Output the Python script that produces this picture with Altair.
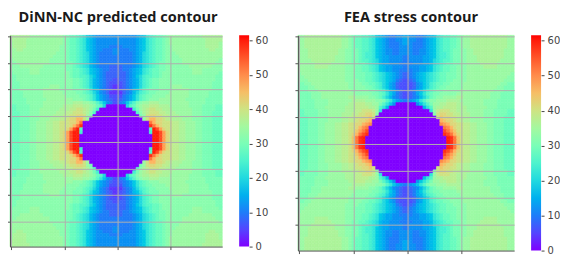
import altair as alt
import pandas as pd

# Top-left quarter of each field (the image is near-symmetric).
# One character per cell, base 36, value = digit * 2; short rows end at the hole (0).
DINN = [
"iiiiiihhhhhhhhhh" "gfeedcb987666666",
"iiiiihhhhhhhhhhh" "gfeedcb987666666",
"hiiiihhhhhhhhhhh" "gfeedcb987666666",
"hiiiihhhhhhhhhhg" "gfeedcb987666655",
"hhiihhhhhhhhhhhg" "gfeedcb987665556",
"hhhhhhhhhhhhhhgg" "gfeedcba87655556",
"hhhhhhhhhhhhhggg" "gfeedcba87655555",
"ghhhhhhhhhhhgggg" "gfeedcba87655555",
"gghhhhhhhhhhgggg" "gffedcba87655555",
"ggghhhhhhhgggggg" "gffedcba87655544",
"gggggghhhggggggg" "gffeedcb98765544",
"fggggghhhggggggg" "ggfeedcb98765444",
"ffgggggggggggggg" "ggfeeddca9765444",
"ffgggggggggggggg" "gggffedca8765443",
"fffggggggggggggg" "gggffedca8765433",
"fffggggggggghhhg" "gggffedca8765432",
"fffggggggghhhhhg" "gggfffedb9865432",
"ffffgggggghhhhhh" "ggggffedca865422",
"ffffgggggghhhhhh" "hggggffedb976533",
"fffffgggggghhhhh" "hhhgggfedb976543",
"fffffggggghhhhhh" "hhhiiihhgfdb9653",
"eeffffgggghhhhhhiiijjjiihgeda",
"eeffffggghhhhhhiiijjkkjihfc",
"eeefffggghhhhhiiijjkkkjigd",
"eeefffggghhhhiiijjkkllkhf",
"eeefffggghhhiiijjkllnnkh",
"eeefffgghhhiijjkkkllnq",
"eeefffgghhhiijjkkklnqt",
"eeefffgghhhiijjkklosud",
"eeefffgghhhiijjklosuuc",
"eeefffgghhhiijjklosuu",
"eeefffgghhhiijjklosuu",
]
FEA = [
"hhiiiiiiiiiiihhg" "feeddcb987655667",
"hhiiiiiiiiiiihhg" "feeddcb987655667",
"hhiiiiiiiiiiihhg" "feeddcb987655567",
"hhiiiiiiiiiiihhg" "feeddcb987655566",
"hhhiiiiiiiiihhgg" "ffeddcb987665566",
"hhhiiiiiiiiihhgg" "ffedccb987665566",
"hhhiiiiiiiihhhgg" "ffedccb987766665",
"hhhhiiiiiiihhhgg" "ffeddcba87766665",
"hhhhhiiiiihhhhgg" "ffeedcba87766655",
"hhhhhiiiihhhhhgg" "gffeedcb98776665",
"hhhhhhhhhhhhhhgg" "gffeedcb98776655",
"ghhhhhhhhhhhhhgg" "gfffeedcba987654",
"gghhhhhhhhhhhhgg" "gfffeedcba987654",
"ggghhhhhhhhhhhgg" "ggffeedcba987543",
"ffgghhhhhhhhhhhg" "gggffeedca976433",
"fffgghhhhhhhhhhg" "ggggffedca976433",
"fffggghhhhhhhhhh" "gggggffedca87543",
"ffffggghhhhhhhhh" "hgggggffedb97543",
"ffffggghhhhhhhhi" "ihhhhggfeca86543",
"fffffgggghhhhhhh" "iiiihhhggfdb9765",
"fffffgggghhhhhhiijjjiihhfdb96",
"fffffggghhhhhhiiijjjjiihdb8",
"eeffffggghhhhhiiijjkkkjhb",
"eeffffggghhhhiiijjkkllkg",
"eeefffggghhhhiijjkkllmk",
"eeefffggghhhhiijjkllmn",
"eeefffgghhhiijjkkllnop",
"eeefffgghhhiijjkklnpq",
"eeefffgghhhiijjkkmoqs",
"eeefffgghhhiijjklnqst",
"eeefffgghhhiijjkmqtu",
"eeefffgghhhiijjkmqtu",
]
X_TICKS = [0, 20, 40, 60]
Y_TICKS = [0, 10, 20, 30, 40, 50, 60, 70]
BAR_TICKS = [0, 10, 20, 30, 40, 50, 60]
STOPS = [0, 3.84, 7.69, 11.53, 15.38, 19.22, 23.06, 26.91, 30.75,
         34.59, 38.44, 42.28, 46.13, 49.97, 53.81, 57.66, 61.5]
# The edge scale closes the seams between cells; its last stop differs so its legend is not merged in.
EDGE_STOPS = STOPS[:-1] + [61.51]
COLORS = ["#8000ff", "#6032fe", "#4062fa", "#208cf4", "#00b4ec", "#20d4e1", "#40ecd4", "#60fac4",
          "#80ffb4", "#a0f9a2", "#bfec8e", "#e0d47a", "#ffb462", "#ff8c4b", "#ff6232", "#ff321a", "#ff0000"]
N = 64
SPAN = 80


def table(quad):
    rows = [r.ljust(N // 2, "0")[:N // 2] for r in quad]
    rows = rows + rows[::-1]
    out = []
    for i, r in enumerate(rows):
        line = r + r[::-1]
        for j, ch in enumerate(line):
            out.append({"x": -0.5 + j * SPAN / N, "x2": -0.5 + (j + 1) * SPAN / N,
                        "y": -0.5 + i * SPAN / N, "y2": -0.5 + (i + 1) * SPAN / N,
                        "v": int(ch, 36) * 2})
    return pd.DataFrame(out)


def panel(quad, title, w, h, shift):
    legend = alt.Legend(type="gradient", title=None, orient="none", legendX=w + 17, legendY=0,
                        gradientLength=h, gradientThickness=10, values=[], gradientStrokeWidth=0)
    axis = dict(labels=False, title=None, grid=True, gridColor="#b0b0b0", gridWidth=1, tickSize=3,
                tickColor="#555555", domainColor="#555555", zindex=1)
    field = alt.Chart(table(quad), title=alt.TitleParams(title, font="Open Sans", fontSize=14.6, fontWeight="bold",
                                                         color="#1a1a1a", anchor="middle", offset=10,
                                                         dx=shift)).mark_rect(strokeWidth=0.6).encode(
        x=alt.X("x:Q", scale=alt.Scale(domain=[-0.5, 79.5], nice=False, zero=False),
                axis=alt.Axis(values=X_TICKS, **axis)),
        x2="x2:Q",
        y=alt.Y("y:Q", scale=alt.Scale(domain=[79.5, -0.5], nice=False, zero=False),
                axis=alt.Axis(values=Y_TICKS, **axis)),
        y2="y2:Q",
        color=alt.Color("v:Q", scale=alt.Scale(domain=STOPS, range=COLORS), legend=legend),
        stroke=alt.Stroke("v:Q", scale=alt.Scale(domain=EDGE_STOPS, range=COLORS), legend=None),
    ).properties(width=w, height=h)
    # colour-bar ticks and labels, on an axis of their own beside the bar
    bar_axis = alt.Chart(pd.DataFrame({"b": BAR_TICKS})).mark_rule(opacity=0).encode(
        y=alt.Y("b:Q", scale=alt.Scale(domain=[0, 61.5], nice=False, zero=False),
                axis=alt.Axis(orient="right", offset=27, values=BAR_TICKS, title=None, grid=False, domain=False,
                              tickSize=3, tickColor="#444444", labelFontSize=10, labelFont="DejaVu Sans",
                              labelColor="#444444", labelPadding=3)),
    )
    return alt.layer(field, bar_axis).resolve_scale(y="independent")


chart = alt.hconcat(
    panel(DINN, "DiNN-NC predicted contour", 213, 212, 2),
    panel(FEA, "FEA stress contour", 217, 216, 5),
    spacing=26,
).resolve_scale(color="independent", stroke="independent").properties(
    padding={"left": -2, "top": 2, "right": 0, "bottom": 0}
).configure_view(stroke=None)

chart.save("out.html", embed_options={"renderer": "svg", "actions": False})
